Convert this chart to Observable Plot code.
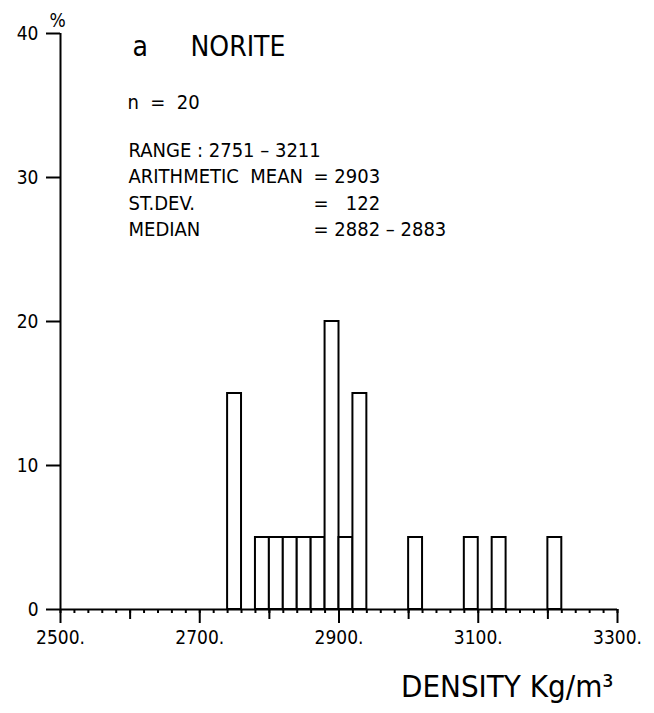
<!DOCTYPE html>
<html>
<head>
<meta charset="utf-8">
<script src="https://cdn.jsdelivr.net/npm/d3@7"></script>
<script src="https://cdn.jsdelivr.net/npm/@observablehq/plot@0.6"></script>
<style>
  html, body { margin: 0; padding: 0; background: #fff; }
  svg { display: block; }
</style>
</head>
<body>
<div id="chart"></div>
<script>
// Histogram bins (density, kg/m3) and percentage of samples
const binStart = [2740, 2780, 2800, 2820, 2840, 2860, 2880, 2900, 2920, 3000, 3080, 3120, 3200];
const binWidth = 20;
const percent  = [15, 5, 5, 5, 5, 5, 20, 5, 15, 5, 5, 5, 5];

const xMajorTicks = [2500, 2700, 2900, 3100, 3300];
const xMidTicks = [2600, 2800, 3000, 3200];
const xMinorTicks = d3.range(2500, 3301, 20);
const yTicks = [0, 10, 20, 30, 40];

const titleLetter = "a";
const titleName = "NORITE";
const countLine = "n  =  20";
const statLabels = ["RANGE : 2751 – 3211", "ARITHMETIC  MEAN", "ST.DEV.", "MEDIAN"];
const statValues = ["", "= 2903", "= \u2007122", "= 2882 – 2883"];
const xLabel = "DENSITY Kg/m³";
const yUnit = "%";

const bins = binStart.map((x, i) => ({x1: x, x2: x + binWidth, y: percent[i]}));

const font = "'DejaVu Sans Condensed', 'Liberation Sans Narrow', sans-serif";
const lineGap = 26.3;

const statMarks = [];
statLabels.forEach((t, i) => {
  statMarks.push(Plot.text([t], {frameAnchor: "top-left", dx: 68, dy: 117 + i * lineGap, fontSize: 20, textAnchor: "start", lineAnchor: "middle"}));
  if (statValues[i]) statMarks.push(Plot.text([statValues[i]], {frameAnchor: "top-left", dx: 253, dy: 117 + i * lineGap, fontSize: 20, textAnchor: "start", lineAnchor: "middle"}));
});

const chart = Plot.plot({
  width: 654,
  height: 713,
  marginLeft: 60,
  marginRight: 37,
  marginTop: 33,
  marginBottom: 104,
  style: {fontFamily: font, fontSize: "19px", color: "#000", background: "#fff"},
  x: {domain: [2500, 3300]},
  y: {domain: [0, 40]},
  marks: [
    Plot.rectY(bins, {x1: "x1", x2: "x2", y: "y", fill: "white", stroke: "black", strokeWidth: 2}),
    // axis lines
    Plot.ruleY([0], {stroke: "black", strokeWidth: 2}),
    Plot.ruleX([2500], {y1: 0, y2: 40, stroke: "black", strokeWidth: 2}),
    // x ticks
    Plot.axisX({ticks: xMinorTicks, tickSize: 4, tickFormat: () => "", strokeWidth: 2, label: null}),
    Plot.axisX({ticks: xMidTicks, tickSize: 10, tickFormat: () => "", strokeWidth: 2, label: null}),
    Plot.axisX({ticks: xMajorTicks, tickSize: 14, tickPadding: 7, tickFormat: d => d + ".", fontSize: 19, strokeWidth: 2, label: null}),
    // y ticks
    Plot.axisY({ticks: yTicks, tickSize: 14, tickPadding: 8, fontSize: 19, strokeWidth: 2, label: null}),
    // unit label
    Plot.text([yUnit], {frameAnchor: "top-left", dx: -3, dy: -13, fontSize: 19, textAnchor: "middle", lineAnchor: "middle"}),
    // title
    Plot.text([titleLetter], {frameAnchor: "top-left", dx: 72, dy: 14, fontSize: 28, textAnchor: "start", lineAnchor: "middle"}),
    Plot.text([titleName], {frameAnchor: "top-left", dx: 130, dy: 14, fontSize: 28, textAnchor: "start", lineAnchor: "middle"}),
    Plot.text([countLine], {frameAnchor: "top-left", dx: 67, dy: 69, fontSize: 20, textAnchor: "start", lineAnchor: "middle"}),
    ...statMarks,
    // x label
    Plot.text([xLabel], {frameAnchor: "bottom-right", dx: -4, dy: 78, fontSize: 31, textAnchor: "end", lineAnchor: "middle"})
  ]
});

document.getElementById("chart").appendChild(chart);
</script>
</body>
</html>
